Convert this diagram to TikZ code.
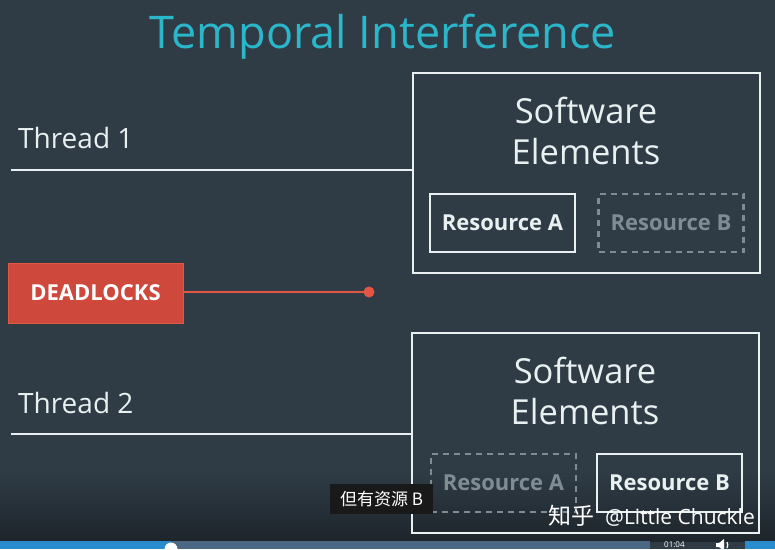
\documentclass[tikz,border=0pt]{standalone}
\usepackage{fontspec}
\setmainfont{Open Sans}
\newfontfamily\cjk{Noto Sans CJK SC}
\definecolor{bg}{RGB}{47,60,70}
\definecolor{bgdark}{RGB}{30,37,43}
\definecolor{titlec}{RGB}{43,182,202}
\definecolor{linec}{RGB}{232,240,240}
\definecolor{dimc}{RGB}{128,140,148}
\definecolor{redc}{RGB}{207,72,60}
\definecolor{redl}{RGB}{226,86,66}
\definecolor{barblue}{RGB}{40,140,205}
\definecolor{bargray}{RGB}{74,104,132}
\begin{document}
\begin{tikzpicture}[x=1pt,y=-1pt,
  thrline/.style={draw=linec,line width=2.6pt},
  swbox/.style={draw=linec,line width=2.6pt},
  swtext/.style={text=linec,font=\fontsize{34.5}{41}\selectfont,align=center,inner sep=0pt},
  thrtext/.style={text=linec,font=\fontsize{28}{32}\selectfont,anchor=base west,inner sep=0pt},
  resfull/.style={draw=linec,line width=2.4pt,text=linec,minimum width=145pt,minimum height=58pt,inner sep=0pt,font=\fontsize{22}{24}\selectfont\bfseries},
  resdim/.style={draw=dimc,line width=2.2pt,dash pattern=on 6pt off 5pt,text=dimc,minimum width=145pt,minimum height=58pt,inner sep=0pt,font=\fontsize{22}{24}\selectfont\bfseries}
]
\useasboundingbox (0,0) rectangle (775,549);
\begin{scope}
\clip (0,0) rectangle (775,549);
\fill[bg] (0,0) rectangle (775,549);
\shade[top color=bg,bottom color=bgdark] (0,470) rectangle (775,541);
% title
\node[text=titlec,font=\fontsize{45}{50}\selectfont,inner sep=0pt] (title) at (383,37) {Temporal Interference};
% thread 1
\node[thrtext] (t1) at (18,148) {Thread 1};
\coordinate (t1a) at (11,170);
\coordinate (t1b) at (412,170);
\draw[thrline] (t1a) -- (t1b);
\node[swbox,minimum width=347pt,minimum height=200pt,inner sep=0pt] (box1) at (586.5,173) {};
\node[swtext] (sw1) at (586,131) {Software\\Elements};
\node[resfull] (ra1) at (502.5,223) {Resource A};
\node[resdim] (rb1) at (671,223) {Resource B};
% deadlocks
\node[fill=redc,draw=redl,line width=1pt,minimum width=175pt,minimum height=60pt,inner sep=0pt,text=white,font=\fontsize{22}{24}\selectfont\bfseries] (dl) at (95.5,293) {DEADLOCKS};
\coordinate (dot) at (369,292);
\draw[redl,line width=2pt] (dl.east |- dot) -- (dot);
\fill[redl] (dot) circle (5.5);
% thread 2
\node[thrtext] (t2) at (18,413) {Thread 2};
\coordinate (t2a) at (11,434);
\coordinate (t2b) at (412,434);
\draw[thrline] (t2a) -- (t2b);
\node[swbox,minimum width=347pt,minimum height=200pt,inner sep=0pt] (box2) at (585.5,433) {};
\node[swtext] (sw2) at (585,391) {Software\\Elements};
\node[resdim] (ra2) at (503.5,483) {Resource A};
\node[resfull] (rb2) at (669.5,483) {Resource B};
% subtitle and watermark
\node[fill=black!90,text=white,font=\cjk\fontsize{17}{18}\selectfont,minimum width=103pt,minimum height=30pt,inner sep=0pt] (sub) at (381.5,499) {但有资源 B};
\node[text=white,font=\fontsize{21}{22}\selectfont,anchor=base east,inner sep=0pt] (wm) at (755,524) {{\cjk\fontsize{23}{24}\selectfont 知乎}\ \ @Little Chuckle};
% progress bar
\fill[bargray] (0,541) rectangle (650,549);
\fill[barblue] (0,541) rectangle (171,549);
\fill[barblue] (745,541) rectangle (775,549);
\fill[white] (171,549) circle (6.5);
\node[text=white,font=\fontsize{8}{9}\selectfont,anchor=base west,inner sep=0pt] (time) at (664,547.5) {01:04};
% speaker icon
\coordinate (spk) at (716,545);
\fill[white] ([shift={(0,-2)}]spk) rectangle ([shift={(3,2)}]spk)
  -- ([shift={(3,2)}]spk) -- ([shift={(8,6)}]spk) -- ([shift={(8,-6)}]spk) -- ([shift={(3,-2)}]spk) -- cycle;
\draw[white,line width=1.2pt] ([shift={(11,-3)}]spk) arc (-30:30:6);
\end{scope}
\end{tikzpicture}
\end{document}
